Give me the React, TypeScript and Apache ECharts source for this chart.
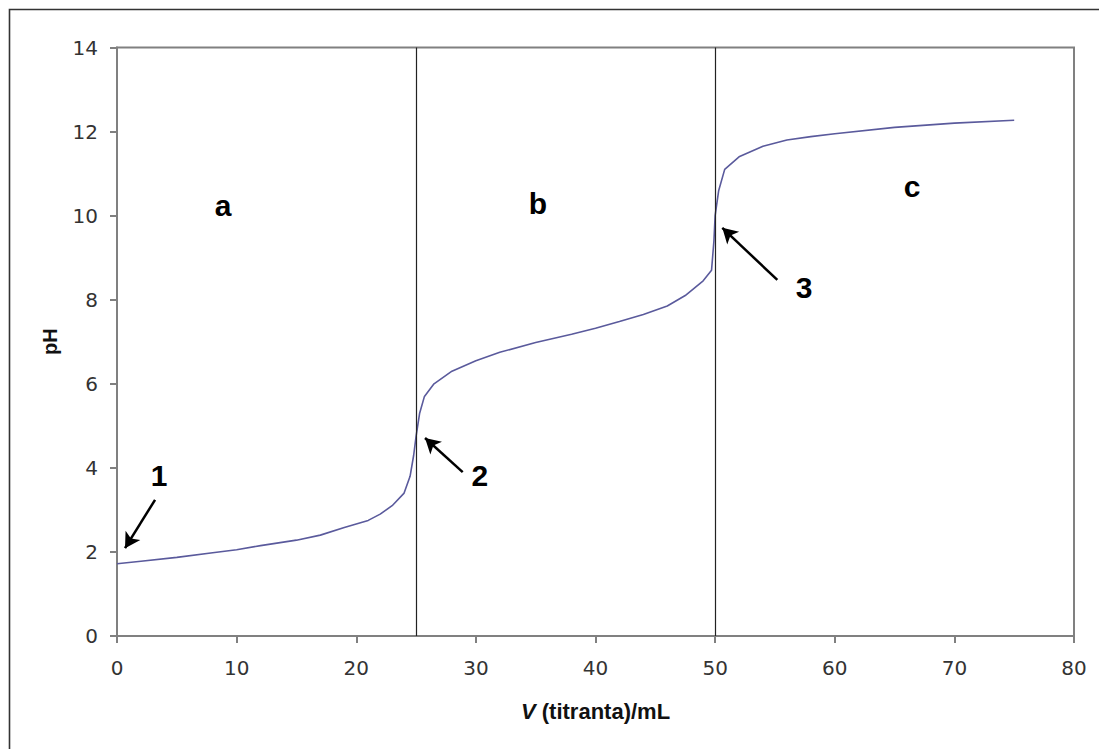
import React, { useEffect, useRef } from "react";
import * as echarts from "echarts";

const volumes = [0, 2, 5, 8, 10, 12, 15, 17, 19, 21, 22, 23, 24, 24.5, 24.8, 25, 25.3, 25.7, 26.5, 28, 30, 32, 35, 38, 40, 42, 44, 46, 47.5, 49, 49.7, 49.9, 50, 50.3, 50.8, 52, 54, 56, 58, 60, 65, 70, 75];
const phValues = [1.72, 1.78, 1.87, 1.98, 2.05, 2.15, 2.28, 2.4, 2.58, 2.75, 2.9, 3.1, 3.4, 3.8, 4.3, 4.75, 5.3, 5.7, 6.0, 6.3, 6.55, 6.75, 6.98, 7.18, 7.32, 7.48, 7.65, 7.85, 8.1, 8.45, 8.7, 9.4, 10.0, 10.6, 11.1, 11.4, 11.65, 11.8, 11.88, 11.95, 12.1, 12.2, 12.27];
const equivalenceVolumes = [25, 50];
const regionLabels = ["a", "b", "c"];
const regionLabelPos = [[8.86, 10.23], [35.19, 10.28], [66.46, 10.7]];
const pointLabels = ["1", "2", "3"];
const pointLabelPos = [[3.51, 3.81], [30.34, 3.81], [57.43, 8.28]];
const arrowTails = [[3.18, 3.24], [28.9, 3.9], [55.2, 8.47]];
const arrowTips = [[0.67, 2.09], [25.75, 4.71], [50.6, 9.71]];

export default function App() {
  const ref = useRef<HTMLDivElement>(null);
  useEffect(() => {
    const chart = echarts.init(ref.current!, null, { renderer: "svg" });
    const tickFont = { fontFamily: "DejaVu Sans", fontSize: 20, color: "#333" };
    chart.setOption({
      animation: false,
      backgroundColor: "#fff",
      grid: { left: 117, top: 47.5, right: 25, bottom: 113, show: true, borderColor: "#808080", borderWidth: 2 },
      xAxis: {
        type: "value",
        min: 0,
        max: 80,
        interval: 10,
        splitLine: { show: false },
        axisLine: { lineStyle: { color: "#808080", width: 2 } },
        axisTick: { inside: false, length: 7, lineStyle: { color: "#808080", width: 2 } },
        axisLabel: { ...tickFont, margin: 22 },
        name: "{i|V} (titranta)/mL",
        nameLocation: "middle",
        nameGap: 64,
        nameTextStyle: {
          fontFamily: "Liberation Sans",
          fontWeight: "bold",
          fontSize: 22,
          color: "#111",
          rich: { i: { fontFamily: "Liberation Sans", fontWeight: "bold", fontStyle: "italic", fontSize: 22, color: "#111" } },
        },
      },
      yAxis: {
        type: "value",
        min: 0,
        max: 14,
        interval: 2,
        splitLine: { show: false },
        axisLine: { lineStyle: { color: "#808080", width: 2 } },
        axisTick: { inside: false, length: 7, lineStyle: { color: "#808080", width: 2 } },
        axisLabel: { ...tickFont, margin: 19 },
        name: "pH",
        nameLocation: "middle",
        nameGap: 57,
        nameTextStyle: { fontFamily: "Liberation Sans", fontWeight: "bold", fontSize: 20, color: "#111" },
      },
      series: [
        {
          type: "line",
          data: volumes.map((v, i) => [v, phValues[i]]),
          showSymbol: false,
          symbol: "none",
          lineStyle: { color: "#5a5a9c", width: 1.6 },
          z: 3,
          markLine: {
            silent: true,
            symbol: ["none", "none"],
            label: { show: false },
            lineStyle: { color: "#222", width: 1.2, type: "solid" },
            data: equivalenceVolumes.map((v) => ({ xAxis: v })),
          },
        },
        {
          type: "line",
          data: [],
          markLine: {
            silent: true,
            symbol: ["none", "arrow"],
            symbolSize: [13, 15],
            label: { show: false },
            lineStyle: { color: "#000", width: 2.5, type: "solid" },
            data: arrowTails.map((t, i) => [{ coord: t }, { coord: arrowTips[i] }]),
          },
        },
      ],
    });
    const texts: any[] = [];
    regionLabels.forEach((t, i) => {
      const [x, y] = chart.convertToPixel({ gridIndex: 0 }, regionLabelPos[i]) as number[];
      texts.push({ type: "text", x, y, style: { text: t, font: "bold 30px 'Liberation Sans'", fill: "#000", textAlign: "center", textVerticalAlign: "middle" } });
    });
    pointLabels.forEach((t, i) => {
      const [x, y] = chart.convertToPixel({ gridIndex: 0 }, pointLabelPos[i]) as number[];
      texts.push({ type: "text", x, y, style: { text: t, font: "bold 30px 'Liberation Sans'", fill: "#000", textAlign: "center", textVerticalAlign: "middle" } });
    });
    texts.push({ type: "rect", shape: { x: 9.5, y: 9.5, width: 1200, height: 900 }, style: { fill: "none", stroke: "#333", lineWidth: 1.6 }, silent: true });
    chart.setOption({ graphic: texts });
    return () => chart.dispose();
  }, []);
  return <div ref={ref} style={{ position: "fixed", left: 0, top: 0, width: 1099, height: 749 }} />;
}
